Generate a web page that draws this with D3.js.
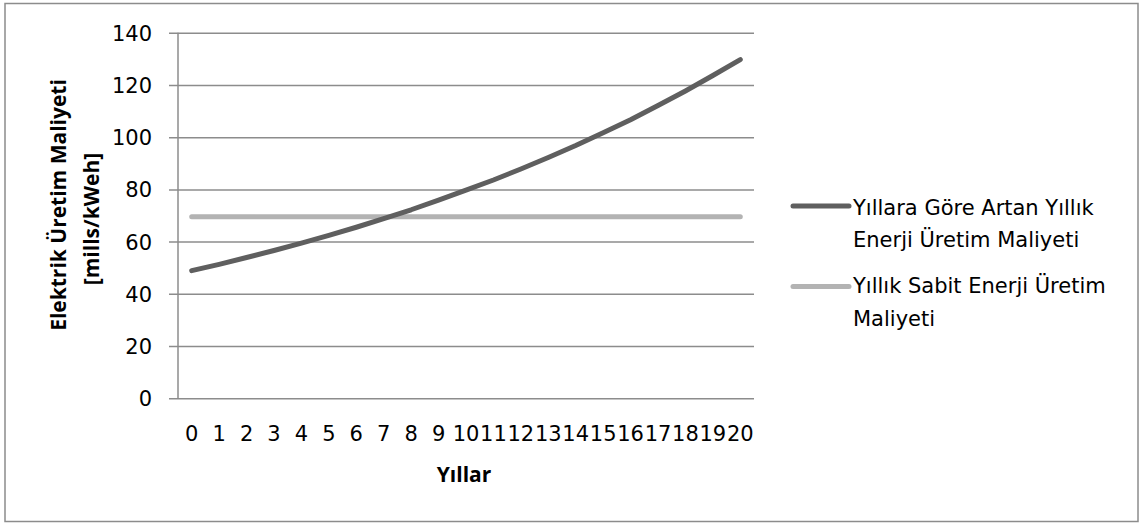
<!DOCTYPE html>
<html>
<head>
<meta charset="utf-8">
<script src="https://cdn.jsdelivr.net/npm/d3@7"></script>
<style>
    body { margin: 0; background: #fff; }
    svg text { font-family: "DejaVu Sans", sans-serif; fill: #000; }
    .axis-title { font-family: "Open Sans", sans-serif; font-weight: bold; }
</style>
</head>
<body>
<div id="chart"></div>
<script>

// years on the x axis
const years = [0, 1, 2, 3, 4, 5, 6, 7, 8, 9, 10, 11, 12, 13, 14, 15, 16, 17, 18, 19, 20];

// cost per year [mills/kWeh]
const artanMaliyet = [48.9, 51.3, 53.9, 56.6, 59.4, 62.4, 65.5, 68.8, 72.2, 75.9, 79.7,
    83.6, 87.8, 92.2, 96.8, 101.7, 106.7, 112.1, 117.7, 123.6, 129.7];
const sabitMaliyet = [69.5, 69.5, 69.5, 69.5, 69.5, 69.5, 69.5, 69.5, 69.5, 69.5, 69.5,
    69.5, 69.5, 69.5, 69.5, 69.5, 69.5, 69.5, 69.5, 69.5, 69.5];

const yTicks = [0, 20, 40, 60, 80, 100, 120, 140];

const seriesNames = [
    ["Yıllara Göre Artan Yıllık", "Enerji Üretim Maliyeti"],
    ["Yıllık Sabit Enerji Üretim", "Maliyeti"]
];
const seriesColors = ["#5f5f5f", "#b3b3b3"];
const yTitle = ["Elektrik Üretim Maliyeti", "[mills/kWeh]"];
const xTitle = "Yıllar";


let width = 1140, height = 523;
let plot = {left: 178, right: 754, top: 32.7, bottom: 398.3};

let svg = d3.select("#chart").append("svg")
    .attr("width", width)
    .attr("height", height);

// chart border
svg.append("rect")
    .attr("x", 5)
    .attr("y", 3.5)
    .attr("width", 1133)
    .attr("height", 518)
    .attr("fill", "none")
    .attr("stroke", "#8c8c8c")
    .attr("stroke-width", 1.5);

let x = d3.scaleBand()
    .domain(years)
    .range([plot.left, plot.right]);

let y = d3.scaleLinear()
    .domain([0, 140])
    .range([plot.bottom, plot.top]);

// y axis + gridlines (gridlines stick out a bit left of the axis)
let yAxis = d3.axisLeft(y)
    .tickValues(yTicks)
    .tickSize(-(plot.right - plot.left + 9))
    .tickPadding(17);

let yAxisGroup = svg.append("g")
    .attr("class", "y-axis")
    .attr("transform", `translate(${plot.left - 9},0)`)
    .call(yAxis);

yAxisGroup.select(".domain").remove();
yAxisGroup.selectAll("line")
    .attr("stroke", "#8c8c8c")
    .attr("stroke-width", 1.5);
yAxisGroup.selectAll("text")
    .attr("dy", "0.36em")
    .style("font-size", "21px");

// vertical axis line
svg.append("line")
    .attr("x1", plot.left)
    .attr("x2", plot.left)
    .attr("y1", plot.top)
    .attr("y2", plot.bottom)
    .attr("stroke", "#8c8c8c")
    .attr("stroke-width", 1.5);

// x axis labels
let xAxis = d3.axisBottom(x)
    .tickSize(0)
    .tickPadding(28);

let xAxisGroup = svg.append("g")
    .attr("class", "x-axis")
    .attr("transform", `translate(0,${plot.bottom})`)
    .call(xAxis);

xAxisGroup.select(".domain").remove();
xAxisGroup.selectAll("text")
    .style("font-size", "21px");

// lines
let line = d3.line()
    .x((d, i) => x(years[i]) + x.bandwidth() / 2)
    .y(d => y(d));

[sabitMaliyet, artanMaliyet].forEach((series, k) => {
    let idx = k === 0 ? 1 : 0;
    svg.append("path")
        .datum(series)
        .attr("d", line)
        .attr("fill", "none")
        .attr("stroke", seriesColors[idx])
        .attr("stroke-width", 5)
        .attr("stroke-linecap", "round")
        .attr("stroke-linejoin", "round");
});

// axis titles
svg.append("text")
    .attr("class", "axis-title")
    .attr("x", 464)
    .attr("y", 482)
    .attr("text-anchor", "middle")
    .style("font-size", "21px")
    .text(xTitle);

let yTitleCenters = [205, 219];
let yTitleBaselines = [66, 99];
yTitle.forEach((t, i) => {
    svg.append("text")
        .attr("class", "axis-title")
        .attr("transform", `translate(${yTitleBaselines[i]},${yTitleCenters[i]}) rotate(-90)`)
        .attr("text-anchor", "middle")
        .style("font-size", "21px")
        .text(t);
});

// legend
let legendY = [206, 286.5];
let legendTextOffset = [8.5, 6.5];
seriesNames.forEach((lines, i) => {
    let g = svg.append("g")
        .attr("class", "legend-item")
        .attr("transform", `translate(793,${legendY[i]})`);

    g.append("line")
        .attr("x1", 0)
        .attr("x2", 56)
        .attr("stroke", seriesColors[i])
        .attr("stroke-width", 5)
        .attr("stroke-linecap", "round");

    lines.forEach((t, j) => {
        g.append("text")
            .attr("x", 60)
            .attr("y", legendTextOffset[i] + j * 32.5)
            .style("font-size", "21px")
            .text(t);
    });
});

</script>
</body>
</html>
